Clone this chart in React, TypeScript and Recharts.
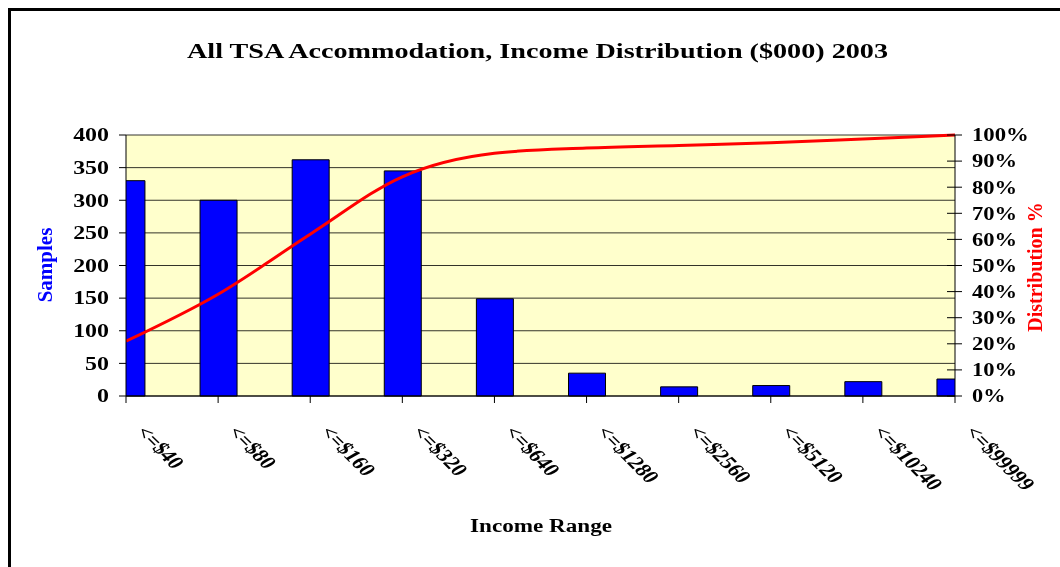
import {
  ComposedChart,
  Bar,
  Line,
  XAxis,
  YAxis,
  CartesianGrid,
} from "recharts";

const incomeRanges = [
  "<=$40",
  "<=$80",
  "<=$160",
  "<=$320",
  "<=$640",
  "<=$1280",
  "<=$2560",
  "<=$5120",
  "<=$10240",
  "<=$99999",
];
const samples = [330, 300, 362, 345, 149, 35, 14, 16, 22, 26];
const distribution = [0.21, 0.39, 0.62, 0.84, 0.93, 0.95, 0.96, 0.97, 0.985, 1.0];
const sampleTicks = [0, 50, 100, 150, 200, 250, 300, 350, 400];
const percentTicks = [0, 0.1, 0.2, 0.3, 0.4, 0.5, 0.6, 0.7, 0.8, 0.9, 1];

const FONT = '"Liberation Serif", "Times New Roman", serif';
// the original export is stretched sideways, so the text is widened to match
const STRETCH = 1.33;

const chartData = incomeRanges.map((range, i) => ({
  idx: i,
  range,
  samples: samples[i],
  dist: distribution[i],
}));

function RangeTick({ x, y, payload }: any) {
  const label = incomeRanges[payload.value] ?? "";
  return (
    <g transform={`translate(${x + 9},${y + 29}) scale(${STRETCH},1) rotate(53)`}>
      <text
        x={0}
        y={0}
        textAnchor="start"
        fontFamily={FONT}
        fontWeight="bold"
        fontSize={18}
        fill="#000"
      >
        {label}
      </text>
    </g>
  );
}

function SampleTick({ x, y, payload }: any) {
  return (
    <g transform={`translate(${x},${y}) scale(${STRETCH},1)`}>
      <text
        x={0}
        y={0}
        dy="0.35em"
        textAnchor="end"
        fontFamily={FONT}
        fontWeight="bold"
        fontSize={18}
        fill="#000"
      >
        {payload.value}
      </text>
    </g>
  );
}

function PercentTick({ x, y, payload }: any) {
  const label = Math.round(payload.value * 100) + "%";
  const width = (label.length - 1) * 11.7 + 21.7;
  return (
    <g>
      {/* inner half of the cross tick */}
      <line x1={x - 25} y1={y} x2={x - 17} y2={y} stroke="#000" />
      <g transform={`translate(${x},${y}) scale(${STRETCH},1)`}>
        <text
          x={0}
          y={0}
          dy="0.35em"
          textAnchor="start"
          textLength={width / STRETCH}
          lengthAdjust="spacingAndGlyphs"
          fontFamily={FONT}
          fontWeight="bold"
          fontSize={18}
          fill="#000"
        >
          {label}
        </text>
      </g>
    </g>
  );
}

export default function App() {
  return (
    <div style={{ position: "relative", width: 1052, height: 551 }}>
      <div
        style={{
          position: "fixed",
          left: 8,
          top: 8,
          width: 1100,
          height: 600,
          borderLeft: "3px solid #000",
          borderTop: "3px solid #000",
        }}
      />
      <ComposedChart
        width={1052}
        height={551}
        data={chartData}
        margin={{ top: 127, right: 0, bottom: 0, left: 0 }}
        style={{ position: "absolute", left: 0, top: 0 }}
      >
        <CartesianGrid
          yAxisId="left"
          vertical={false}
          fill="#FFFFCC"
          stroke="#000"
          strokeOpacity={0.8}
        />
        <XAxis
          dataKey="idx"
          type="number"
          domain={[0, 9]}
          ticks={[0, 1, 2, 3, 4, 5, 6, 7, 8, 9]}
          allowDataOverflow
          height={163}
          tickSize={7}
          tickMargin={0}
          stroke="#000"
          tick={<RangeTick />}
          interval={0}
        />
        <YAxis
          yAxisId="left"
          orientation="left"
          width={118}
          domain={[0, 400]}
          ticks={sampleTicks}
          tickSize={7}
          tickMargin={10}
          stroke="#000"
          tick={<SampleTick />}
          interval={0}
        />
        <YAxis
          yAxisId="right"
          orientation="right"
          width={105}
          domain={[0, 1]}
          ticks={percentTicks}
          tickSize={7}
          tickMargin={10}
          stroke="#000"
          tick={<PercentTick />}
          interval={0}
        />
        <Bar
          yAxisId="left"
          dataKey="samples"
          barSize={37}
          fill="#0000FF"
          stroke="#000"
          strokeWidth={1}
          isAnimationActive={false}
        />
        <Line
          yAxisId="right"
          dataKey="dist"
          type="monotone"
          stroke="#FF0000"
          strokeWidth={3}
          dot={false}
          activeDot={false}
          isAnimationActive={false}
        />
      </ComposedChart>
      <svg
        width={1052}
        height={551}
        style={{ position: "absolute", left: 0, top: 0, pointerEvents: "none" }}
      >
        <g transform={`translate(529.5,50) scale(${STRETCH},1)`}>
          <text
            x={0}
            y={0}
            textAnchor="middle"
            textLength={701 / STRETCH}
            lengthAdjust="spacingAndGlyphs"
            fontFamily={FONT}
            fontWeight="bold"
            fontSize={21}
            fill="#000"
          >
            All TSA Accommodation, Income Distribution ($000) 2003
          </text>
        </g>
        <g transform={`translate(533,524) scale(${STRETCH},1)`}>
          <text
            x={0}
            y={0}
            textAnchor="middle"
            textLength={142 / STRETCH}
            lengthAdjust="spacingAndGlyphs"
            fontFamily={FONT}
            fontWeight="bold"
            fontSize={19}
            fill="#000"
          >
            Income Range
          </text>
        </g>
        <text
          transform="translate(44,257) rotate(-90)"
          textAnchor="middle"
          fontFamily={FONT}
          fontWeight="bold"
          fontSize={21}
          fill="#0000FF"
        >
          Samples
        </text>
        <text
          transform="translate(1034,259) rotate(-90)"
          textAnchor="middle"
          fontFamily={FONT}
          fontWeight="bold"
          fontSize={20}
          fill="#FF0000"
        >
          Distribution %
        </text>
      </svg>
    </div>
  );
}
